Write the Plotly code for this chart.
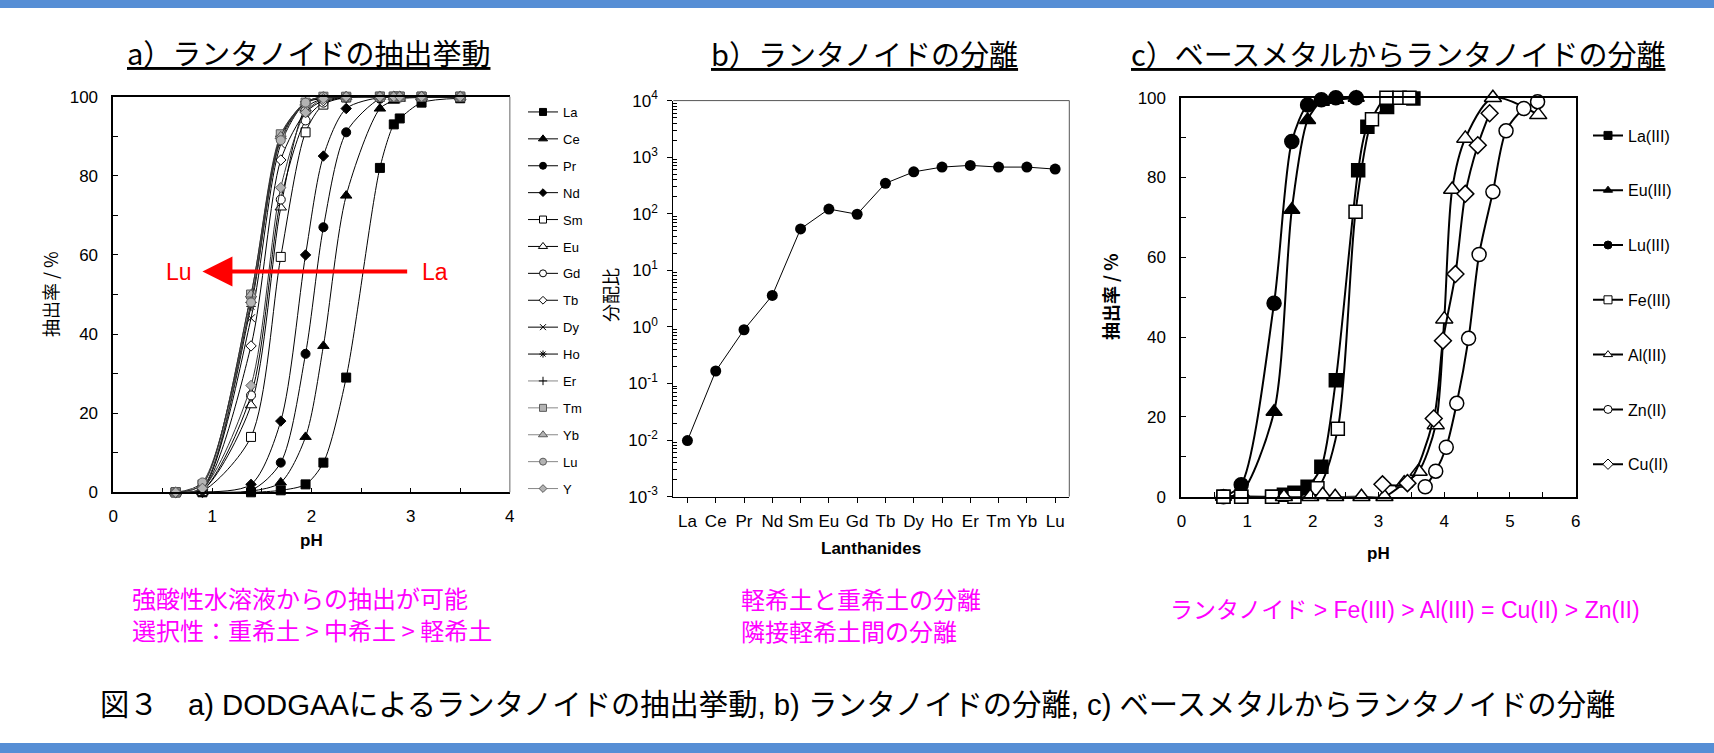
import plotly.graph_objects as go

W, H = 1714, 753
def fx(x): return x / W
def fy(y): return 1 - y / H

# ---------------- data: chart a (extraction % vs pH) ----------------
ph_a = [0.63, 0.90, 1.39, 1.69, 1.94, 2.12, 2.35, 2.69, 2.83, 2.89, 3.11, 3.50]
la_a = [0, 0, 0, 0.5, 2, 7.5, 29, 82, 93, 94.5, 98.5, 99.6]
ce_a = [0, 0, 0.3, 2.5, 14, 37, 75, 97, 99, 99.5, 99.8, 99.8]
pr_a = [0, 0, 0.5, 7.5, 35, 67, 91, 99.5, 99.8, 99.8, 99.8, 99.8]
nd_a = [0, 0, 2, 18, 60, 85, 97, 99.8, 100, 100, 100, 100]
sm_a = [0, 0.3, 14, 59.5, 91, 98, 99.8, 100, 100, 100, 100, 100]
eu_a = [0, 0.5, 22, 72, 97, 99.5, 100, 100, 100, 100, 100, 100]
gd_a = [0, 0.5, 24.5, 74, 94, 98.5, 99.8, 100, 100, 100, 100, 100]
tb_a = [0, 0.7, 37, 84, 96, 99, 99.8, 100, 100, 100, 100, 100]
dy_a = [0, 1, 44, 88, 98.5, 99.5, 100, 100, 100, 100, 100, 100]
ho_a = [0, 1, 47, 89.5, 98.5, 99.7, 100, 100, 100, 100, 100, 100]
er_a = [0, 1.2, 48, 90, 98.7, 99.8, 100, 100, 100, 100, 100, 100]
tm_a = [0, 2, 50, 90.5, 98.5, 100, 100, 100, 100, 100, 100, 100]
yb_a = [0, 2, 50, 90, 98.5, 100, 100, 100, 100, 100, 100, 100]
lu_a = [0, 2.5, 48, 89, 98.5, 100, 100, 100, 100, 100, 100, 100]
y_a = [0, 1, 27, 77, 96, 99.5, 100, 100, 100, 100, 100, 100]
names_a = ["La", "Ce", "Pr", "Nd", "Sm", "Eu", "Gd", "Tb", "Dy", "Ho", "Er", "Tm", "Yb", "Lu", "Y"]

# ---------------- data: chart b (distribution ratio) ----------------
lanthanides = ["La", "Ce", "Pr", "Nd", "Sm", "Eu", "Gd", "Tb", "Dy", "Ho", "Er", "Tm", "Yb", "Lu"]
dist_ratio = [0.0098, 0.166, 0.89, 3.6, 54, 121, 98, 345, 550, 668, 716, 668, 668, 615]

# ---------------- data: chart c (base metals) ----------------
ph_la_c = [0.64, 0.91, 1.38, 1.56, 1.72, 1.92, 2.13, 2.35, 2.69, 2.83, 3.13, 3.53]
ex_la_c = [0, 0, 0, 0.5, 1, 2.5, 7.5, 29.2, 81.8, 92.7, 97.7, 99.8]
ph_eu_c = [0.64, 0.91, 1.41, 1.68, 1.92, 2.13, 2.35, 2.66]
ex_eu_c = [0, 1, 21.3, 71.9, 94.4, 99, 99.5, 100]
ph_lu_c = [0.64, 0.91, 1.41, 1.68, 1.92, 2.13, 2.35, 2.66]
ex_lu_c = [0, 3, 48.5, 89, 98.2, 99.5, 100, 100]
ph_fe_c = [0.64, 0.91, 1.38, 1.72, 2.07, 2.38, 2.65, 2.90, 3.12, 3.32, 3.47]
ex_fe_c = [0, 0, 0, 0, 2.1, 17, 71.4, 94.6, 100, 100, 100]
ph_al_c = [1.56, 1.96, 2.15, 2.34, 2.74, 3.09, 3.39, 3.61, 3.87, 4.00, 4.12, 4.32, 4.74, 5.43]
ex_al_c = [0, 0, 0.5, 0, 0, 0, 3.4, 6.3, 18, 44.5, 77, 89.8, 100, 95.7]
ph_zn_c = [3.71, 3.87, 4.03, 4.19, 4.37, 4.53, 4.74, 4.94, 5.21, 5.42]
ex_zn_c = [2.5, 6.4, 12.4, 23.4, 39.7, 60.7, 76.4, 91.7, 97.3, 99.0]
ph_cu_c = [3.06, 3.44, 3.84, 3.98, 4.17, 4.32, 4.51, 4.69]
ex_cu_c = [3.1, 3.4, 19.6, 39.1, 55.8, 75.9, 88.1, 96.1]

fig = go.Figure()

# ---------- chart a traces ----------
GRAY = "#b3b3b3"
GRAYL = "#5a5a5a"
style_a = {
    "La": ("square", "black", "black", 9, "black"),
    "Ce": ("triangle-up", "black", "black", 10, "black"),
    "Pr": ("circle", "black", "black", 9, "black"),
    "Nd": ("diamond", "black", "black", 8, "black"),
    "Sm": ("square", "white", "black", 9, "black"),
    "Eu": ("triangle-up", "white", "black", 10, "black"),
    "Gd": ("circle", "white", "black", 9, "black"),
    "Tb": ("diamond", "white", "black", 8, "black"),
    "Dy": ("x-thin-open", "black", "black", 8, "black"),
    "Ho": ("asterisk-open", "black", "black", 8, "black"),
    "Er": ("cross-thin-open", "black", "black", 8, "#444444"),
    "Tm": ("square", GRAY, GRAYL, 9, "#333333"),
    "Yb": ("triangle-up", GRAY, GRAYL, 10, "#333333"),
    "Lu": ("circle", GRAY, GRAYL, 9, "#333333"),
    "Y": ("diamond", GRAY, GRAYL, 8, "#333333"),
}
legline_a = {"Er": "#888888", "Tm": "#888888", "Yb": "#888888", "Lu": "#888888", "Y": "#888888"}
series_a = [la_a, ce_a, pr_a, nd_a, sm_a, eu_a, gd_a, tb_a, dy_a, ho_a, er_a, tm_a, yb_a, lu_a, y_a]
for name, vals in zip(names_a, series_a):
    sym, fill, edge, size, lcol = style_a[name]
    fig.add_trace(go.Scatter(
        x=ph_a, y=vals, mode="lines+markers", xaxis="x", yaxis="y",
        line=dict(color=lcol, width=1, shape="spline", smoothing=0.8),
        marker=dict(symbol=sym, color=fill, size=size, line=dict(color=edge, width=1)),
        showlegend=False, cliponaxis=False))
for name in names_a:
    sym, fill, edge, size, lcol = style_a[name]
    fig.add_trace(go.Scatter(
        x=[None], y=[None], mode="lines+markers", xaxis="x", yaxis="y",
        name=name, legend="legend", legendgroup="a" + name,
        line=dict(color=legline_a.get(name, "black"), width=1),
        marker=dict(symbol=sym, color=fill, size=max(size - 2, 6), line=dict(color=edge, width=1)),
        showlegend=True))

# ---------- chart b trace ----------
fig.add_trace(go.Scatter(
    x=lanthanides, y=dist_ratio, mode="lines+markers", xaxis="x2", yaxis="y2",
    line=dict(color="black", width=1),
    marker=dict(symbol="circle", color="black", size=11),
    showlegend=False, cliponaxis=False))

# ---------- chart c traces ----------
series_c = [
    ("La(III)", ph_la_c, ex_la_c, "square", "black", 13),
    ("Eu(III)", ph_eu_c, ex_eu_c, "triangle-up", "black", 14),
    ("Lu(III)", ph_lu_c, ex_lu_c, "circle", "black", 14),
    ("Fe(III)", ph_fe_c, ex_fe_c, "square", "white", 13),
    ("Al(III)", ph_al_c, ex_al_c, "triangle-up", "white", 15),
    ("Zn(II)", ph_zn_c, ex_zn_c, "circle", "white", 14),
    ("Cu(II)", ph_cu_c, ex_cu_c, "diamond", "white", 13),
]
for name, xs, ys, sym, fill, size in series_c:
    fig.add_trace(go.Scatter(
        x=xs, y=ys, mode="lines+markers", xaxis="x3", yaxis="y3",
        line=dict(color="black", width=2, shape="spline", smoothing=0.8),
        marker=dict(symbol=sym, color=fill, size=size, line=dict(color="black", width=1.5)),
        showlegend=False, cliponaxis=False))
for name, xs, ys, sym, fill, size in series_c:
    fig.add_trace(go.Scatter(
        x=[None], y=[None], mode="lines+markers", xaxis="x3", yaxis="y3",
        name=name, legend="legend2", legendgroup="c" + name,
        line=dict(color="black", width=2),
        marker=dict(symbol=sym, color=fill, size=8, line=dict(color="black", width=1)),
        showlegend=True))

TICKFONT = dict(family="Liberation Sans, Arial", size=17, color="black")
JP = "Noto Sans CJK JP"

dom_a_x = [fx(113.2), fx(509.8)]
dom_a_y = [fy(492.3), fy(96.7)]
dom_b_x = [fx(673.3), fx(1069.3)]
dom_b_y = [fy(496.6), fy(100.6)]
dom_c_x = [fx(1181.4), fx(1575.7)]
dom_c_y = [fy(496.7), fy(97.7)]

minor_log = [k * 10 ** n for n in range(-3, 4) for k in range(2, 10)]

common = dict(showgrid=False, zeroline=False, showline=True, automargin=False, tickcolor="black")

fig.update_layout(
    width=W, height=H, margin=dict(l=0, r=0, t=0, b=0, pad=0, autoexpand=False),
    paper_bgcolor="white", plot_bgcolor="white",
    xaxis=dict(domain=dom_a_x, range=[0, 4], anchor="y", dtick=1, tick0=0,
               linecolor="black", linewidth=1.5, mirror=True, ticks="inside", ticklen=5,
               minor=dict(dtick=0.5, ticks="inside", ticklen=5, tickcolor="black"),
               tickfont=TICKFONT, ticklabelstandoff=8, **common),
    yaxis=dict(domain=dom_a_y, range=[0, 100], anchor="x", dtick=20,
               linecolor="black", linewidth=1.5, ticks="inside", ticklen=5,
               minor=dict(dtick=10, ticks="inside", ticklen=5, tickcolor="black"),
               tickfont=TICKFONT, ticklabelstandoff=10, **common),
    xaxis2=dict(domain=dom_b_x, range=[-0.5, 13.5], anchor="y2", type="category",
                linecolor="black", linewidth=1.2, ticks="outside", ticklen=5,
                tickfont=TICKFONT, ticklabelstandoff=4, **common),
    yaxis2=dict(domain=dom_b_y, type="log", range=[-3, 4], anchor="x2",
                tickmode="array", tickvals=[1e-3, 1e-2, 1e-1, 1, 10, 100, 1e3, 1e4],
                ticktext=["10<sup>-3</sup>", "10<sup>-2</sup>", "10<sup>-1</sup>", "10<sup>0</sup>",
                          "10<sup>1</sup>", "10<sup>2</sup>", "10<sup>3</sup>", "10<sup>4</sup>"],
                linecolor="black", linewidth=1.2, ticks="outside", ticklen=5,
                minor=dict(tickmode="array", tickvals=minor_log, ticks="inside", ticklen=4, tickcolor="black"),
                tickfont=TICKFONT, ticklabelstandoff=6, **common),
    xaxis3=dict(domain=dom_c_x, range=[0, 6], anchor="y3", dtick=1, tick0=0,
                linecolor="black", linewidth=2, mirror=True, ticks="inside", ticklen=5,
                minor=dict(dtick=0.5, ticks="inside", ticklen=5, tickcolor="black"),
                tickfont=TICKFONT, ticklabelstandoff=8, **common),
    yaxis3=dict(domain=dom_c_y, range=[0, 100], anchor="x3", dtick=20,
                linecolor="black", linewidth=2, mirror=True, ticks="inside", ticklen=5,
                minor=dict(dtick=10, ticks="inside", ticklen=5, tickcolor="black"),
                tickfont=TICKFONT, ticklabelstandoff=10, **common),
    legend=dict(x=fx(523), y=fy(97), xanchor="left", yanchor="top",
                font=dict(family="Liberation Sans, Arial", size=13, color="black"),
                tracegroupgap=7, bgcolor="rgba(0,0,0,0)", itemclick=False, itemdoubleclick=False),
    legend2=dict(x=fx(1588), y=fy(118.5), xanchor="left", yanchor="top",
                 font=dict(family="Liberation Sans, Arial", size=16, color="black"),
                 tracegroupgap=31, bgcolor="rgba(0,0,0,0)", itemclick=False, itemdoubleclick=False),
    showlegend=True,
)

shapes = [
    dict(type="rect", xref="paper", yref="paper", x0=0, x1=1, y0=fy(8), y1=1,
         fillcolor="#568ED5", line=dict(width=0)),
    dict(type="rect", xref="paper", yref="paper", x0=0, x1=1, y0=0, y1=fy(743),
         fillcolor="#568ED5", line=dict(width=0)),
    dict(type="line", xref="x domain", yref="y domain", x0=1, x1=1, y0=0, y1=1,
         line=dict(color="#999999", width=1.5)),
    dict(type="line", xref="x2 domain", yref="y2 domain", x0=1, x1=1, y0=0, y1=1,
         line=dict(color="#555555", width=1)),
    dict(type="line", xref="x2 domain", yref="y2 domain", x0=0, x1=1, y0=1, y1=1,
         line=dict(color="#555555", width=1)),
]
fig.update_layout(shapes=shapes)

ann = []
def text(x, y, s, size, color="black", family=JP, angle=0, xanchor="center", bold=False, under=False):
    f = dict(family=family, size=size, color=color)
    if bold:
        f["weight"] = "bold"
    if under:
        f["lineposition"] = "under"
    ann.append(dict(x=fx(x), y=fy(y), xref="paper", yref="paper", text=s, showarrow=False,
                    font=f, textangle=angle, xanchor=xanchor, yanchor="middle", borderpad=0))

# titles
text(308.5, 52, "a）ランタノイドの抽出挙動", 29, under=True)
text(864, 53, "b）ランタノイドの分離", 29, under=True)
text(1398, 53, "c）ベースメタルからランタノイドの分離", 29, under=True)

# axis titles
text(311, 540, "pH", 17, family="Liberation Sans, Arial", bold=True)
text(50, 294, "抽出率 / %", 18, angle=-90)
text(871, 548, "Lanthanides", 17, family="Liberation Sans, Arial", bold=True)
text(610, 295, "分配比", 18, angle=-90)
text(1378, 553, "pH", 17, family="Liberation Sans, Arial", bold=True)
text(1110, 297, "抽出率 / %", 18, angle=-90, bold=True)

# Lu <- La arrow
ann.append(dict(x=0.90, y=55.8, xref="x", yref="y", ax=2.98, ay=55.8, axref="x", ayref="y",
                text="", showarrow=True, arrowhead=2, arrowsize=1.5, arrowwidth=4, arrowcolor="#ff0000"))
text(178.7, 272, "Lu", 23, color="#ff0000", family="Liberation Sans, Arial")
text(434.7, 272, "La", 23, color="#ff0000", family="Liberation Sans, Arial")

# magenta notes
MAG = "#ff00ff"
text(131, 597, "強酸性水溶液からの抽出が可能", 24, color=MAG, xanchor="left")
text(131, 629.5, "選択性：重希土 > 中希土 > 軽希土", 24, color=MAG, xanchor="left")
text(740, 598, "軽希土と重希土の分離", 24, color=MAG, xanchor="left")
text(740, 630.5, "隣接軽希土間の分離", 24, color=MAG, xanchor="left")
text(1169, 610, "ランタノイド > Fe(III) > Al(III) = Cu(II) > Zn(II)", 23, color=MAG,
     family="Liberation Sans, Noto Sans CJK JP", xanchor="left")

# caption
text(99, 704, "図３　a) DODGAAによるランタノイドの抽出挙動, b) ランタノイドの分離, c) ベースメタルからランタノイドの分離",
     29.3, family="Liberation Sans, Noto Sans CJK JP", xanchor="left")

fig.update_layout(annotations=ann)
fig.write_html("out.html", config={"displayModeBar": False},
               post_script="document.body.style.margin='0px';document.body.style.overflow='hidden';")
